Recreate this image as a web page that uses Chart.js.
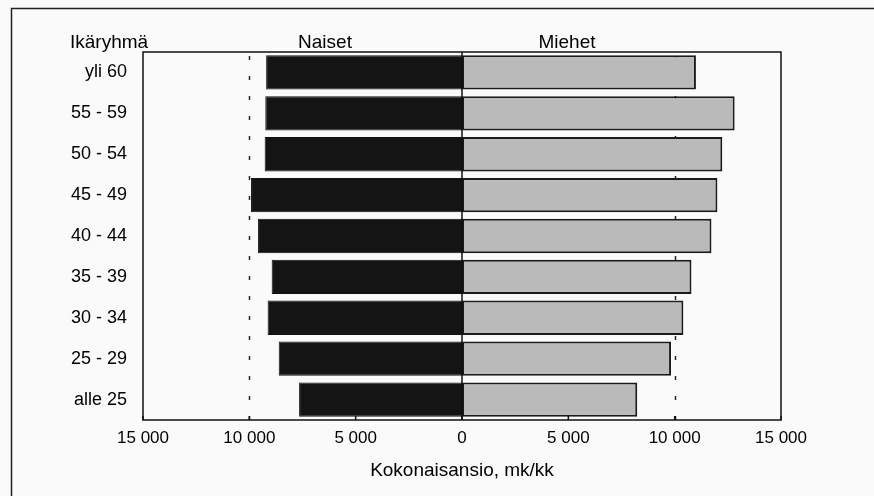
<!DOCTYPE html>
<html>
<head>
<meta charset="utf-8">
<script src="https://cdn.jsdelivr.net/npm/chart.js@4/dist/chart.umd.min.js"></script>
<style>
  html, body { margin: 0; padding: 0; background: #fafafa; }
</style>
</head>
<body>
<canvas id="myChart" width="874" height="496"></canvas>
<script>
  // data (mk/kk)
  var ageGroups = ["yli 60", "55 - 59", "50 - 54", "45 - 49", "40 - 44", "35 - 39", "30 - 34", "25 - 29", "alle 25"];
  var naiset = [9210, 9250, 9280, 9920, 9590, 8950, 9140, 8620, 7660];
  var miehet = [11000, 12820, 12240, 12010, 11730, 10790, 10410, 9830, 8240];
  var xTicks = [-15000, -10000, -5000, 0, 5000, 10000, 15000];
  var dottedAt = [-10000, 10000];

  var FONT = '"Liberation Sans", Arial, sans-serif';

  function fmt(v) {
    return Math.abs(v).toString().replace(/\B(?=(\d{3})+(?!\d))/g, " ");
  }

  // frame, titles, dotted lines, zero line
  var decorations = {
    id: 'decorations',
    beforeDraw: function (chart) {
      var ctx = chart.ctx;
      ctx.save();
      ctx.fillStyle = '#fafafa';
      ctx.fillRect(0, 0, chart.width, chart.height);
      ctx.strokeStyle = '#222';
      ctx.lineWidth = 1.5;
      ctx.strokeRect(11.5, 8.5, 880, 500);

      ctx.fillStyle = '#000';
      ctx.font = '19px ' + FONT;
      ctx.textBaseline = 'middle';
      ctx.textAlign = 'left';
      ctx.fillText('Ikäryhmä', 70, 43);
      ctx.textAlign = 'center';
      ctx.fillText('Naiset', 325, 43);
      ctx.fillText('Miehet', 567, 43);
      var x = chart.scales.x;
      ctx.fillText('Kokonaisansio, mk/kk', x.getPixelForValue(0), 471);
      ctx.restore();
    },
    beforeDatasetsDraw: function (chart) {
      var ctx = chart.ctx, a = chart.chartArea, x = chart.scales.x;
      ctx.save();
      ctx.strokeStyle = '#222';
      ctx.lineWidth = 1.5;
      ctx.setLineDash([4, 16]);
      dottedAt.forEach(function (v) {
        var px = Math.round(x.getPixelForValue(v)) + 0.5;
        ctx.beginPath();
        ctx.moveTo(px, a.top + 4);
        ctx.lineTo(px, a.bottom);
        ctx.stroke();
      });
      ctx.restore();
    },
    afterDatasetsDraw: function (chart) {
      var ctx = chart.ctx, a = chart.chartArea, x = chart.scales.x;
      ctx.save();
      ctx.strokeStyle = '#111';
      ctx.lineWidth = 1.5;
      ctx.strokeRect(a.left, a.top, a.right - a.left, a.bottom - a.top);
      var z = x.getPixelForValue(0);
      ctx.beginPath();
      ctx.moveTo(z, a.top);
      ctx.lineTo(z, a.bottom);
      ctx.stroke();
      // small inner ticks at the bottom axis
      xTicks.forEach(function (v) {
        var px = x.getPixelForValue(v);
        ctx.beginPath();
        ctx.moveTo(px, a.bottom);
        ctx.lineTo(px, a.bottom - 4);
        ctx.stroke();
      });
      ctx.restore();
    }
  };

  new Chart("myChart", {
    type: "bar",
    data: {
      labels: ageGroups,
      datasets: [{
        label: "Naiset",
        data: naiset.map(function (v) { return -v; }),
        backgroundColor: "#141414",
        borderColor: "#111",
        borderWidth: 1,
        borderSkipped: false,
        barPercentage: 0.84,
        categoryPercentage: 1
      }, {
        label: "Miehet",
        data: miehet,
        backgroundColor: "#bababa",
        borderColor: "#1a1a1a",
        borderWidth: 2,
        borderSkipped: false,
        barPercentage: 0.84,
        categoryPercentage: 1
      }]
    },
    options: {
      indexAxis: 'y',
      responsive: false,
      animation: false,
      layout: { padding: { left: 0, top: 52, right: 93, bottom: 0 } },
      plugins: {
        legend: { display: false },
        tooltip: { enabled: false }
      },
      scales: {
        x: {
          type: 'linear',
          stacked: true,
          min: -15000,
          max: 15000,
          afterBuildTicks: function (s) {
            s.ticks = xTicks.map(function (v) { return { value: v }; });
          },
          afterFit: function (s) { s.height = 76; },
          grid: { display: false, drawTicks: false },
          border: { display: false },
          ticks: {
            padding: 8,
            color: '#000',
            font: { family: FONT, size: 17 },
            maxRotation: 0,
            callback: function (v) { return fmt(v); }
          }
        },
        y: {
          stacked: true,
          afterFit: function (s) { s.width = 143; },
          grid: { display: false, drawTicks: false },
          border: { display: false },
          ticks: {
            padding: 16,
            color: '#000',
            font: { family: FONT, size: 18 }
          }
        }
      }
    },
    plugins: [decorations]
  });
</script>
</body>
</html>
